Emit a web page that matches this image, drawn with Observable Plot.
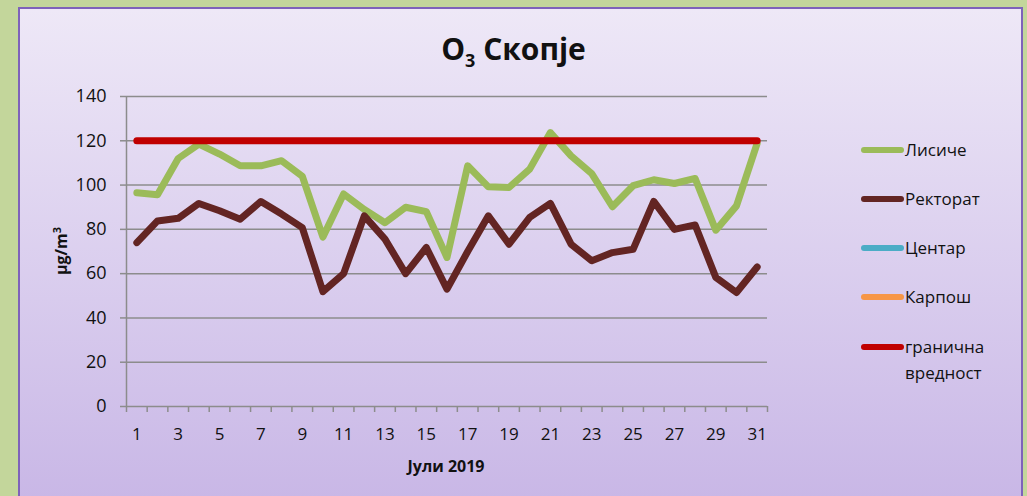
<!DOCTYPE html>
<html>
<head>
<meta charset="utf-8">
<script src="https://cdn.jsdelivr.net/npm/d3@7"></script>
<script src="https://cdn.jsdelivr.net/npm/@observablehq/plot@0.6"></script>
<style>
  html, body { margin:0; padding:0; }
  body { width:1027px; height:496px; overflow:hidden; background:#C3D69B; position:relative;
         font-family:"Open Sans",sans-serif; color:#111; }
  #panel { position:absolute; left:18px; top:7px; width:1001px; height:500px;
           border:2px solid #7E62BA; background:linear-gradient(#EEE8F7, #C8B6E6); }
  #chart { position:absolute; left:0; top:0; }
  #title { position:absolute; left:0; width:1027px; top:28px; text-align:center; font-weight:bold; font-size:30px; font-family:"Open Sans",sans-serif; }
  #title sub { font-size:18px; vertical-align:-7px; line-height:0; font-weight:bold; }
  #xlabel { position:absolute; left:346px; width:200px; top:455px; text-align:center; font-weight:bold; font-size:16px; }
  #ylabel { position:absolute; left:20px; top:241px; width:80px; text-align:center; font-weight:bold; font-size:16px;
            transform:rotate(-90deg); transform-origin:40px 10px; }
  #ylabel sup { font-size:11px; vertical-align:6px; line-height:0; }
  .leg { position:absolute; left:861px; font-size:17px; line-height:26px; }
  .leg .sw { position:absolute; left:0; top:10px; width:43px; height:6px; border-radius:3px; }
  .leg .tx { position:absolute; left:44px; top:0; white-space:nowrap; }
</style>
</head>
<body>
<div id="panel"></div>
<div id="chart"></div>
<div id="title">O<sub>3</sub> Скопје</div>
<div id="xlabel">Јули 2019</div>
<div id="ylabel">µg/m<sup>3</sup></div>
<div id="legend"></div>
<script>
// ---- data ----
const days = [1,2,3,4,5,6,7,8,9,10,11,12,13,14,15,16,17,18,19,20,21,22,23,24,25,26,27,28,29,30,31];
const xTickLabels = [1,3,5,7,9,11,13,15,17,19,21,23,25,27,29,31];
const yTicks = [0,20,40,60,80,100,120,140];
const lisice = [96.5,95.6,112,118.5,114,108.7,108.7,111,104,76.5,96,89,83,90,88,67.3,108.7,99.2,98.9,107.2,123.7,113.2,105.2,90.2,99.7,102.4,100.7,103,79.6,90.6,118.8];
const rektorat = [74,83.8,85,91.7,88.4,84.6,92.6,86.9,80.8,51.9,60,86.1,75.6,60,71.8,53,70,86.1,73.3,85.4,91.7,73.3,65.8,69.5,71,92.6,80,82,58.3,51.5,63];
const centar = [];
const karpos = [];
const limitValue = 120;
const seriesNames = ["Лисиче","Ректорат","Центар","Карпош","гранична\nвредност"];
const seriesColors = ["#9BBB59","#632523","#4BACC6","#F79646","#C00000"];

// ---- build ----
const rowsL = days.map((d,i)=>({day:d, v:lisice[i]}));
const rowsR = days.map((d,i)=>({day:d, v:rektorat[i]}));
const rowsLimit = days.map(d=>({day:d, v:limitValue}));
const boundaries = [days[0]-0.5, ...days.map(d=>d+0.5)];
const grey = "#8C8C8C";
const FONT = '"Open Sans",sans-serif';

const chart = Plot.plot({
  width:1027, height:496,
  marginLeft:126, marginRight:260, marginTop:96, marginBottom:90,
  style:{background:"transparent", fontFamily:FONT, fontSize:"18px", color:"#111", overflow:"visible"},
  x:{type:"linear", domain:[days[0]-0.5, days[days.length-1]+0.5]},
  y:{domain:[yTicks[0], yTicks[yTicks.length-1]]},
  marks:[
    Plot.gridY(yTicks.slice(1), {stroke:grey, strokeOpacity:1, strokeWidth:1.5}),
    Plot.axisY(yTicks, {tickSize:6, tickPadding:14, stroke:grey, strokeWidth:1.5, fill:"#111", fontSize:18, label:null}),
    Plot.axisX(boundaries, {tickSize:6, stroke:grey, strokeWidth:1.5, tickFormat:()=>"", label:null}),
    Plot.axisX(xTickLabels, {tickSize:0, tickPadding:21, fill:"#111", fontSize:17, label:null}),
    Plot.ruleY([yTicks[0]], {stroke:grey, strokeWidth:1.5}),
    Plot.ruleX([days[0]-0.5], {stroke:grey, strokeWidth:1.5}),
    Plot.line(rowsL, {x:"day", y:"v", stroke:seriesColors[0], strokeWidth:7, strokeLinejoin:"round", strokeLinecap:"round"}),
    Plot.line(rowsR, {x:"day", y:"v", stroke:seriesColors[1], strokeWidth:7, strokeLinejoin:"round", strokeLinecap:"round"}),
    Plot.line(rowsLimit, {x:"day", y:"v", stroke:seriesColors[4], strokeWidth:7, strokeLinejoin:"round", strokeLinecap:"round"})
  ]
});
document.getElementById("chart").appendChild(chart);

// legend
const legTops = [137, 186, 235, 284, 334];
const legend = document.getElementById("legend");
seriesNames.forEach((name,i)=>{
  const d = document.createElement("div");
  d.className = "leg";
  d.style.top = legTops[i] + "px";
  const sw = document.createElement("div");
  sw.className = "sw"; sw.style.background = seriesColors[i];
  const tx = document.createElement("div");
  tx.className = "tx"; tx.innerHTML = name.replace("\n","<br>");
  d.appendChild(sw); d.appendChild(tx);
  legend.appendChild(d);
});
</script>
</body>
</html>
